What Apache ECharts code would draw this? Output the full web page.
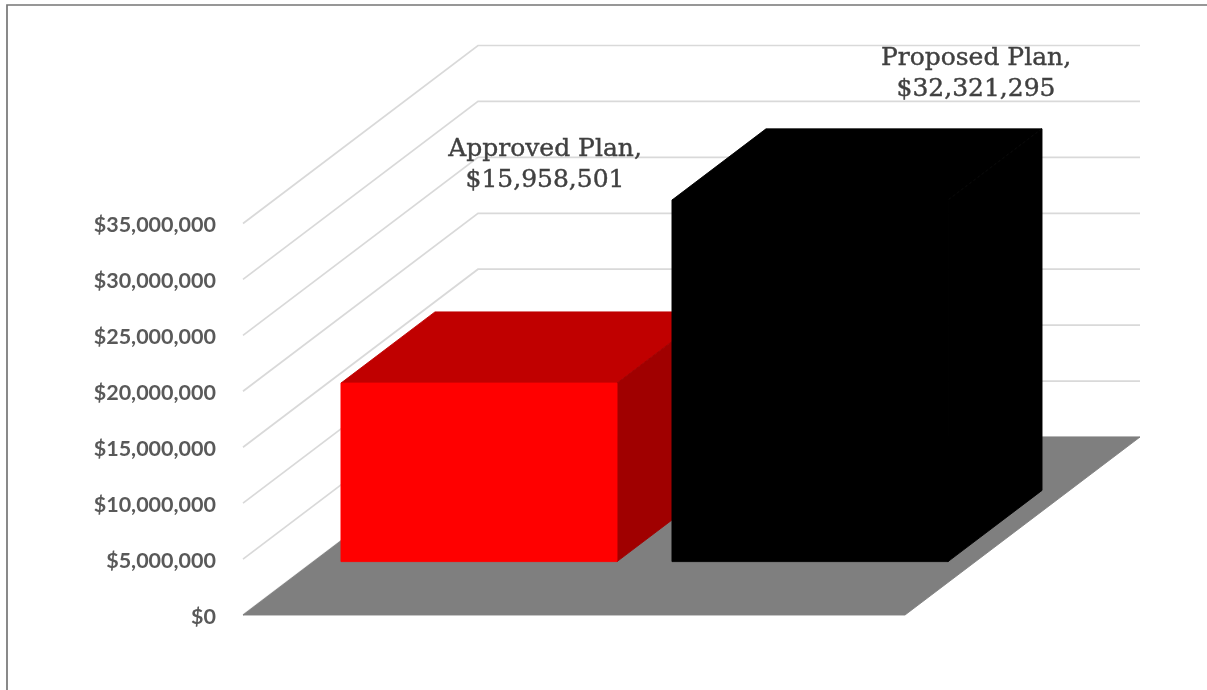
<!DOCTYPE html>
<html>
<head>
<meta charset="utf-8">
<title>Approved and Proposed Plan</title>
<style>
  html, body { margin: 0; padding: 0; background: #fff; }
  #chart { width: 1207px; height: 690px; }
</style>
<script src="https://cdn.jsdelivr.net/npm/echarts@6/dist/echarts.min.js"></script>
</head>
<body>
<div id="chart"></div>
<script>
const categories = ['Approved Plan', 'Proposed Plan'];
const planValues = [15958501, 32321295];
const tickValues = [0, 5000000, 10000000, 15000000, 20000000, 25000000, 30000000, 35000000];
const frontColors = ['#ff0000', '#000000'];
const topColors = ['#c00000', '#000000'];
const sideColors = ['#a00000', '#000000'];

// Oblique projection: a full step of depth moves a point right and up by these amounts.
const DEPTH_X = 235;
const DEPTH_Y = -178;
const BAR_FRONT = 0.3;
const BAR_BACK = 0.7;
const BAR_WIDTH = 0.834;
// Data label anchors, measured from the centre of each bar's top front edge.
const LABEL_SHIFT = [[66, -218], [166, -126]];

const money = v => '$' + v.toLocaleString('en-US');
const project = (pt, depth) => [pt[0] + depth * DEPTH_X, pt[1] + depth * DEPTH_Y];
const poly = (points, fill, z2) => ({
  type: 'polygon',
  z2,
  shape: { points },
  style: { fill, stroke: fill, lineWidth: 0.9, lineJoin: 'bevel' }
});

function renderWalls(params, api) {
  const v = api.value(0);
  const a = api.coord([0, v]);
  const b = api.coord([1, v]);
  const span = api.size([1, 0])[0];
  const front = [a[0] - span / 2, a[1]];
  const corner = project(front, 1);
  const end = [corner[0] + (b[0] - a[0]) * 2, corner[1]];
  return {
    type: 'polyline',
    shape: { points: [front, corner, end] },
    style: { fill: null, stroke: '#d9d9d9', lineWidth: 1.7 }
  };
}

function renderFloor(params, api) {
  const a = api.coord([0, 0]);
  const span = api.size([1, 0])[0];
  const fl = [a[0] - span / 2, a[1]];
  const fr = [fl[0] + span * 2, a[1]];
  return poly([fl, fr, project(fr, 1), project(fl, 1)], '#7f7f7f', 1);
}

function renderBar(params, api) {
  const i = params.dataIndex;
  const value = api.value(1);
  const base = api.coord([i, 0]);
  const top = api.coord([i, value]);
  const half = api.size([1, 0])[0] * BAR_WIDTH / 2;
  const bl = project([base[0] - half, base[1]], BAR_FRONT);
  const br = project([base[0] + half, base[1]], BAR_FRONT);
  const tl = project([top[0] - half, top[1]], BAR_FRONT);
  const tr = project([top[0] + half, top[1]], BAR_FRONT);
  const deep = BAR_BACK - BAR_FRONT;
  const tl2 = project(tl, deep);
  const tr2 = project(tr, deep);
  const br2 = project(br, deep);
  return {
    type: 'group',
    children: [
      poly([tl, tr, tr2, tl2], topColors[i], 1),
      poly([br, tr, tr2, br2], sideColors[i], 2),
      poly([bl, br, tr, tl], frontColors[i], 3),
      {
        type: 'text',
        z2: 4,
        x: (tl[0] + tr[0]) / 2 + LABEL_SHIFT[i][0],
        y: tl[1] + LABEL_SHIFT[i][1],
        style: {
          text: categories[i] + ',\n' + money(value),
          fill: '#404040',
          stroke: '#404040',
          lineWidth: 0.4,
          font: '25px "DejaVu Serif"',
          lineHeight: 31,
          align: 'center',
          verticalAlign: 'middle'
        }
      }
    ]
  };
}

const chart = echarts.init(document.getElementById('chart'), null, { renderer: 'canvas' });
chart.setOption({
  animation: false,
  backgroundColor: '#ffffff',
  graphic: [{
    type: 'polyline',
    shape: { points: [[7, 690], [7, 5], [1207, 5]] },
    style: { fill: null, stroke: '#767676', lineWidth: 1.7 }
  }],
  grid: { left: 243, top: 223.5, width: 662, height: 391.5 },
  xAxis: {
    type: 'category',
    data: categories,
    axisLine: { show: false },
    axisTick: { show: false },
    axisLabel: { show: false }
  },
  yAxis: {
    type: 'value',
    min: 0,
    max: 35000000,
    interval: 5000000,
    splitLine: { show: false },
    axisLine: { show: false },
    axisTick: { show: false },
    axisLabel: {
      margin: 27,
      formatter: money,
      color: '#595959',
      fontFamily: 'Lato',
      fontWeight: 'bold',
      fontSize: 21.5,
      verticalAlign: 'top',
      lineHeight: 4
    }
  },
  series: [
    {
      type: 'custom',
      z: 1,
      coordinateSystem: 'cartesian2d',
      data: tickValues.map(v => [v]),
      encode: { y: 0 },
      renderItem: renderWalls,
      silent: true
    },
    {
      type: 'custom',
      z: 2,
      coordinateSystem: 'cartesian2d',
      data: [[0]],
      encode: { y: 0 },
      renderItem: renderFloor,
      silent: true
    },
    {
      type: 'custom',
      z: 3,
      coordinateSystem: 'cartesian2d',
      data: planValues.map((v, i) => [i, v]),
      encode: { x: 0, y: 1 },
      renderItem: renderBar,
      silent: true
    }
  ]
});
</script>
</body>
</html>
